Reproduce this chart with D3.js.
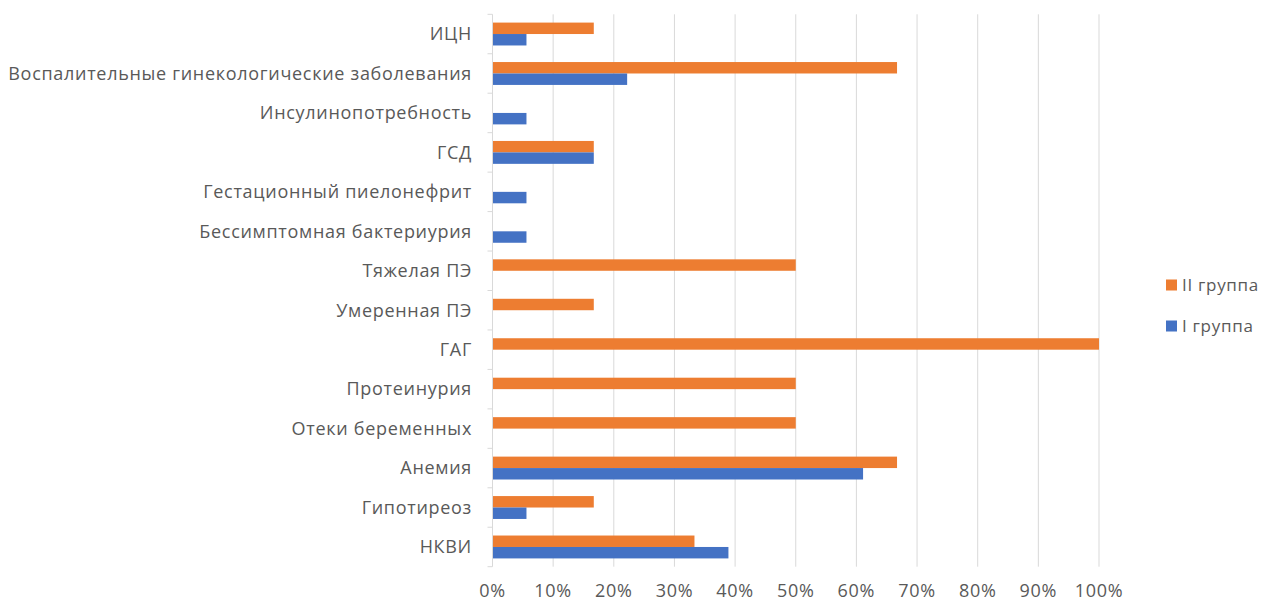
<!DOCTYPE html>
<html>
<head>
<meta charset="utf-8">
<script src="https://cdn.jsdelivr.net/npm/d3@7"></script>
<style>
  html, body { margin: 0; padding: 0; background: #fff; }
  svg { display: block; }
  text { font-family: "Open Sans", "Noto Sans", sans-serif; fill: #595959; letter-spacing: 0.7px; }
</style>
</head>
<body>
<svg id="chart" width="1263" height="602"></svg>
<script>
const categories = [
  "ИЦН",
  "Воспалительные гинекологические заболевания",
  "Инсулинопотребность",
  "ГСД",
  "Гестационный пиелонефрит",
  "Бессимптомная бактериурия",
  "Тяжелая ПЭ",
  "Умеренная ПЭ",
  "ГАГ",
  "Протеинурия ",
  "Отеки беременных",
  "Анемия",
  "Гипотиреоз",
  "НКВИ"
];
const group2 = [16.7, 66.7, 0, 16.7, 0, 0, 50, 16.7, 100, 50, 50, 66.7, 16.7, 33.3];
const group1 = [5.6, 22.2, 5.6, 16.7, 5.6, 5.6, 0, 0, 0, 0, 0, 61.1, 5.6, 38.9];
const seriesNames = ["II группа", "I группа"];
const xTicks = [0, 10, 20, 30, 40, 50, 60, 70, 80, 90, 100];

const colors = { "II группа": "#ED7D31", "I группа": "#4472C4" };
const series = [
  { name: seriesNames[0], values: group2 },
  { name: seriesNames[1], values: group1 }
];

const svg = d3.select("#chart");
const x = d3.scaleLinear().domain([0, 100]).range([492.5, 1099]);
const y = d3.scaleBand().domain(categories).range([14.3, 566.7]).paddingInner(0.42).paddingOuter(0.21);
const sub = d3.scaleBand().domain(seriesNames).range([0, y.bandwidth()]);

// gridlines
svg.append("g").selectAll("line").data(xTicks.filter(d => d > 0)).join("line")
  .attr("x1", d => x(d)).attr("x2", d => x(d))
  .attr("y1", y.range()[0]).attr("y2", y.range()[1])
  .attr("stroke", "#d9d9d9").attr("stroke-width", 1);

// bars
const barG = svg.append("g");
series.forEach(s => {
  barG.append("g").selectAll("rect").data(categories.map((c, i) => ({ c, v: s.values[i] })))
    .join("rect")
    .attr("x", x(0))
    .attr("y", d => y(d.c) + sub(s.name))
    .attr("width", d => x(d.v) - x(0))
    .attr("height", sub.bandwidth())
    .attr("fill", colors[s.name]);
});

// left axis with ticks at band boundaries
const yAxis = svg.append("g");
yAxis.append("line")
  .attr("x1", x(0)).attr("x2", x(0))
  .attr("y1", y.range()[0]).attr("y2", y.range()[1])
  .attr("stroke", "#d9d9d9").attr("stroke-width", 1);
const bounds = categories.map(c => y(c) - y.step() * y.paddingInner() / 2);
bounds.push(y.range()[1]);
yAxis.selectAll("line.tk").data(bounds).join("line").attr("class", "tk")
  .attr("x1", x(0) - 5).attr("x2", x(0))
  .attr("y1", d => d).attr("y2", d => d)
  .attr("stroke", "#d9d9d9").attr("stroke-width", 1);

// category labels
svg.append("g").selectAll("text").data(categories).join("text")
  .attr("x", 472)
  .attr("y", d => y(d) + y.bandwidth() / 2)
  .attr("dy", "0.35em")
  .attr("text-anchor", "end")
  .style("font-size", "18px")
  .text(d => d);

// x tick labels
svg.append("g").selectAll("text").data(xTicks).join("text")
  .attr("x", d => x(d))
  .attr("y", 597)
  .attr("text-anchor", "middle")
  .style("font-size", "18px")
  .text(d => d + "%");

// legend
const legend = svg.append("g");
const legY = [285, 326];
seriesNames.forEach((n, i) => {
  legend.append("rect").attr("x", 1166).attr("y", legY[i] - 5.5).attr("width", 11).attr("height", 11).attr("fill", colors[n]);
  legend.append("text").attr("x", 1182).attr("y", legY[i]).attr("dy", "0.35em")
    .style("font-size", "17px").text(n);
});
</script>
</body>
</html>
